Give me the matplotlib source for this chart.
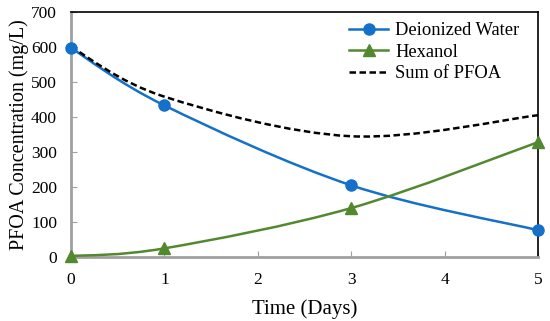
import numpy as np
import matplotlib.pyplot as plt
from matplotlib.path import Path
from matplotlib.patches import PathPatch
from matplotlib.lines import Line2D

plt.rcParams['font.family'] = 'serif'
plt.rcParams['font.serif'] = ['Liberation Serif', 'DejaVu Serif']

# data
days = [0, 1, 3, 5]
deionized = [597, 433, 205, 77]
hexanol = [3, 25, 140, 328]
pfoa_sum = [d + h for d, h in zip(deionized, hexanol)]

blue = '#1470c8'
green = '#52892f'


def smooth_path(x, y):
    # Excel-like smoothed line: cubic bezier with catmull-rom style control points
    x = np.asarray(x, float)
    y = np.asarray(y, float)
    verts = [(x[0], y[0])]
    codes = [Path.MOVETO]
    n = len(x)
    for i in range(n - 1):
        p0 = np.array([x[max(i - 1, 0)], y[max(i - 1, 0)]])
        p1 = np.array([x[i], y[i]])
        p2 = np.array([x[i + 1], y[i + 1]])
        p3 = np.array([x[min(i + 2, n - 1)], y[min(i + 2, n - 1)]])
        c1 = p1 + (p2 - p0) / 6.0
        c2 = p2 - (p3 - p1) / 6.0
        verts += [tuple(c1), tuple(c2), tuple(p2)]
        codes += [Path.CURVE4] * 3
    return Path(verts, codes)


fig = plt.figure(figsize=(5.5, 3.21), dpi=100)
ax = fig.add_axes([0.129, 0.199, 0.849, 0.764])

ax.add_patch(PathPatch(smooth_path(days, deionized), fill=False, color=blue, lw=1.8, zorder=3))
ax.add_patch(PathPatch(smooth_path(days, hexanol), fill=False, color=green, lw=1.8, zorder=3))
ax.add_patch(PathPatch(smooth_path(days, pfoa_sum), fill=False, color='black', lw=1.8,
                       linestyle=(0, (2.6, 1.4)), zorder=4))
ax.plot(days, deionized, 'o', color=blue, ms=8, zorder=5, clip_on=False)
ax.plot(days, hexanol, '^', color=green, ms=8, zorder=5, clip_on=False)

ax.set_xlim(0, 5)
ax.set_ylim(0, 700)
ax.set_xticks(range(0, 6))
ax.set_yticks(range(0, 701, 100))
ax.tick_params(direction='in', length=4, color='#a0a0a0', labelsize=12.5)
ax.tick_params(axis='x', pad=11)
ax.tick_params(axis='y', pad=10)
for lab in ax.get_xticklabels() + ax.get_yticklabels():
    lab.set_fontfamily('Liberation Serif')
for side in ['left', 'bottom']:
    ax.spines[side].set_color('#a0a0a0')
    ax.spines[side].set_linewidth(2)
for side in ['top', 'right']:
    ax.spines[side].set_color('black')
    ax.spines[side].set_linewidth(1.2)

ax.set_xlabel('Time (Days)', fontsize=15, labelpad=8, fontfamily='Liberation Serif')
ax.set_ylabel('PFOA Concentration (mg/L)', fontsize=14.5, labelpad=1.5, fontfamily='Liberation Serif')

handles = [
    Line2D([], [], color=blue, lw=1.8, marker='o', ms=8),
    Line2D([], [], color=green, lw=1.8, marker='^', ms=8),
    Line2D([], [], color='black', lw=1.8, linestyle=(0, (2.6, 1.4))),
]
ax.legend(handles, ['Deionized Water', 'Hexanol', 'Sum of PFOA'], loc='upper right',
          frameon=False, prop={'family': 'Liberation Serif', 'size': 13.3},
          handlelength=2.1, handletextpad=0.38,
          labelspacing=0.25, borderaxespad=0.0, bbox_to_anchor=(0.976, 0.988))

fig.savefig('out.png', dpi=100)
